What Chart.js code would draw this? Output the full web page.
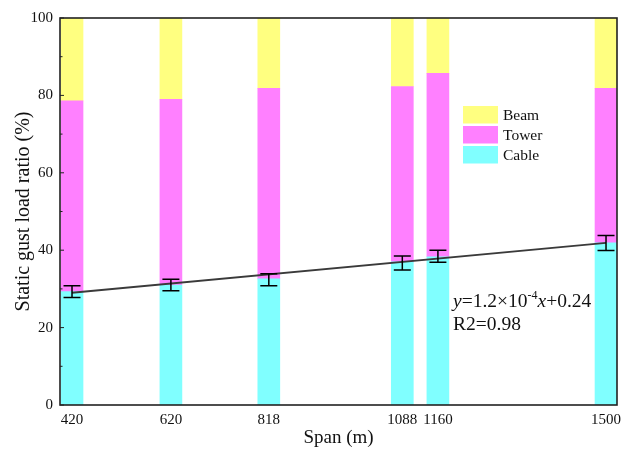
<!DOCTYPE html>
<html>
<head>
<meta charset="utf-8">
<script src="https://cdn.jsdelivr.net/npm/chart.js@4/dist/chart.umd.min.js"></script>
<style>
html,body{margin:0;padding:0;background:#fff;}
#wrap{width:629px;height:449px;position:relative;}
</style>
</head>
<body>
<div id="wrap"><canvas id="c" width="629" height="449"></canvas></div>
<script>
const spans = [420, 620, 818, 1088, 1160, 1500];
const cable = [29.3, 31.0, 32.6, 37.0, 38.3, 41.9];
const tower = [49.3, 48.0, 49.2, 45.3, 47.4, 39.9];
const beam = [21.4, 21.0, 18.2, 17.7, 14.3, 18.2];
const errLow = [27.8, 29.5, 30.8, 34.9, 36.9, 39.9];
const errHigh = [30.8, 32.5, 33.9, 38.5, 40.0, 43.8];
const fitX = [420, 1500];
const fitY = [29.0, 41.9];
const yTicks = [0, 20, 40, 60, 80, 100];
const yMinorTicks = [10, 30, 50, 70, 90];
const eqText = ['y', '=1.2×10', '-4', 'x', '+0.24'];
const r2Text = 'R2=0.98';

const FONT = '"Liberation Serif", "Times New Roman", serif';

function pts(vals) { return spans.map((s, i) => ({ x: s, y: vals[i] })); }

const frameAndExtras = {
  id: 'frameAndExtras',
  afterDatasetsDraw(chart) {
    const ctx = chart.ctx, a = chart.chartArea;
    const xs = chart.scales.x, ys = chart.scales.y;
    ctx.save();
    // error bars
    ctx.strokeStyle = '#000';
    ctx.lineWidth = 1.5;
    spans.forEach((s, i) => {
      const px = xs.getPixelForValue(s);
      const yl = ys.getPixelForValue(errLow[i]);
      const yh = ys.getPixelForValue(errHigh[i]);
      ctx.beginPath();
      ctx.moveTo(px, yl); ctx.lineTo(px, yh);
      ctx.moveTo(px - 8.5, yl); ctx.lineTo(px + 8.5, yl);
      ctx.moveTo(px - 8.5, yh); ctx.lineTo(px + 8.5, yh);
      ctx.stroke();
    });
    // frame
    ctx.strokeStyle = '#222';
    ctx.lineWidth = 1.6;
    ctx.strokeRect(a.left, a.top, a.right - a.left, a.bottom - a.top);
    // inward ticks on y axis
    ctx.lineWidth = 1;
    ctx.beginPath();
    yTicks.forEach(v => { const py = ys.getPixelForValue(v); ctx.moveTo(a.left, py); ctx.lineTo(a.left + 4, py); });
    yMinorTicks.forEach(v => { const py = ys.getPixelForValue(v); ctx.moveTo(a.left, py); ctx.lineTo(a.left + 2.5, py); });
    ctx.stroke();

    // legend
    const items = [chart.data.datasets[2], chart.data.datasets[1], chart.data.datasets[0]];
    ctx.font = '15.5px ' + FONT;
    ctx.textBaseline = 'middle';
    items.forEach((d, k) => {
      const y0 = 106 + k * 20;
      ctx.fillStyle = d.backgroundColor;
      ctx.fillRect(463, y0, 35, 17.5);
      ctx.fillStyle = '#111';
      ctx.fillText(d.label, 503, y0 + 9.5);
    });

    // equation
    ctx.textBaseline = 'alphabetic';
    ctx.fillStyle = '#111';
    let x = 453;
    const base = 307;
    const normal = '19.5px ' + FONT, ital = 'italic 19.5px ' + FONT, sup = '12px ' + FONT;
    const parts = [[eqText[0], ital, 0], [eqText[1], normal, 0], [eqText[2], sup, -8], [eqText[3], ital, 0], [eqText[4], normal, 0]];
    parts.forEach(p => {
      ctx.font = p[1];
      ctx.fillText(p[0], x, base + p[2]);
      x += ctx.measureText(p[0]).width;
    });
    ctx.font = normal;
    ctx.fillText(r2Text, 453, 330);
    ctx.restore();
  }
};

new Chart(document.getElementById('c'), {
  type: 'bar',
  data: {
    datasets: [
      { label: 'Cable', data: pts(cable), backgroundColor: '#80FFFF', stack: 's', barThickness: 22, order: 2 },
      { label: 'Tower', data: pts(tower), backgroundColor: '#FF80FF', stack: 's', barThickness: 22, order: 2 },
      { label: 'Beam', data: pts(beam), backgroundColor: '#FFFF80', stack: 's', barThickness: 22, order: 2 },
      { type: 'line', label: 'Fit', data: fitX.map((v, i) => ({ x: v, y: fitY[i] })), stack: 'fit',
        borderColor: '#3a3a3a', borderWidth: 1.8, pointRadius: 0, fill: false, order: 1 }
    ]
  },
  options: {
    responsive: false,
    animation: false,
    layout: { padding: { left: 0, right: 12, top: 18, bottom: 0 } },
    plugins: { legend: { display: false }, tooltip: { enabled: false } },
    scales: {
      x: {
        type: 'linear', stacked: true, min: 395.7, max: 1522.2, offset: false,
        grid: { display: false, drawTicks: false },
        border: { display: false },
        afterBuildTicks: s => { s.ticks = spans.map(v => ({ value: v })); },
        ticks: { autoSkip: false, maxRotation: 0, padding: 6, color: '#111', font: { family: FONT, size: 15 }, callback: v => String(v) },
        title: { display: true, text: 'Span (m)', color: '#111', font: { family: FONT, size: 19 }, padding: { top: 0, bottom: 0 } },
        afterFit: s => { s.height = 44; }
      },
      y: {
        stacked: true, min: 0, max: 100,
        grid: { display: false, drawTicks: false },
        border: { display: false },
        afterBuildTicks: s => { s.ticks = yTicks.map(v => ({ value: v })); },
        ticks: { padding: 7, color: '#111', font: { family: FONT, size: 15 } },
        title: { display: true, text: 'Static gust load ratio (%)', color: '#111', font: { family: FONT, size: 20 }, padding: { top: 12, bottom: 0 } },
        afterFit: s => { s.width = 60; }
      }
    }
  },
  plugins: [frameAndExtras]
});
</script>
</body>
</html>
